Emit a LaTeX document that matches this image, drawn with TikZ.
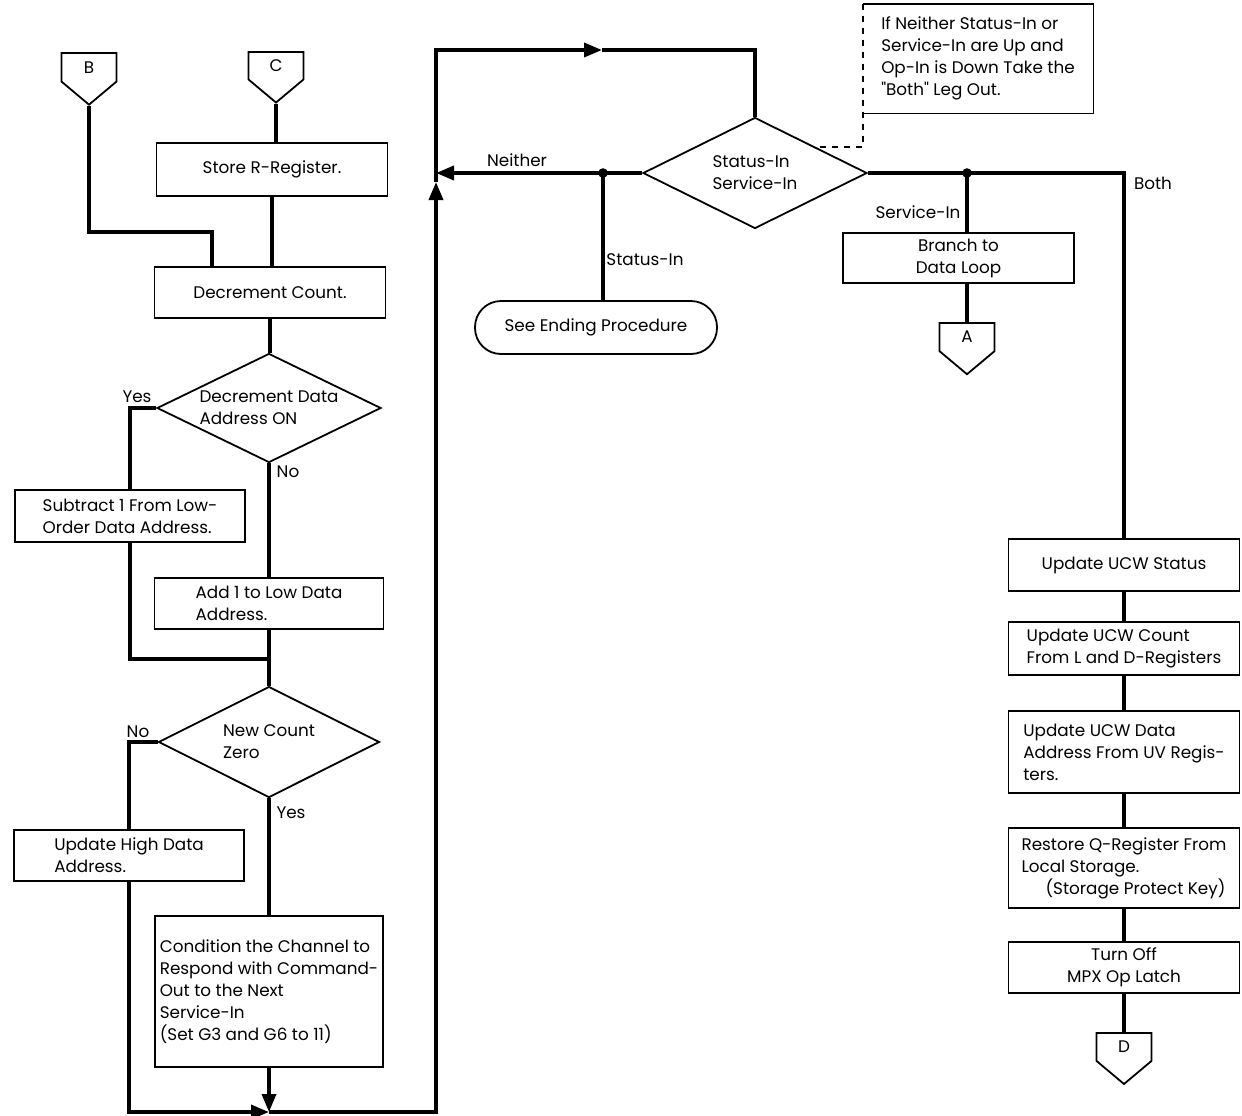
\documentclass[tikz,border=0pt]{standalone}
\usepackage{fontspec}
\setmainfont{Poppins}
\usetikzlibrary{shapes.geometric,shapes.symbols,arrows.meta}

\tikzset{
    every node/.style={font=\fontsize{8.4}{11}\selectfont},
    stepbox/.style={draw, line width=0.9pt, fill=white, inner sep=2pt},
    decision/.style={draw, diamond, aspect=2, line width=0.9pt, inner sep=0pt, align=left},
    endbox/.style={draw, rounded corners=13pt, line width=0.9pt, inner sep=2pt},
    offpage/.style={draw, signal, signal to=south, signal pointer angle=100,
        line width=0.9pt, minimum width=27.5pt, minimum height=16.5pt, inner sep=0pt},
    flow/.style={line width=1.8pt},
    flowarrow/.style={flow, -{Triangle[length=9pt,width=7pt]}},
    lbl/.style={inner sep=1pt}
}

\begin{document}
\begin{tikzpicture}[x=0.5pt, y=-0.5pt]
    \useasboundingbox (0,0) rectangle (1242,1115);

    % Entry connectors
    \node[offpage, anchor=north] (B) at (89,52) {B};
    \node[offpage, anchor=north] (C) at (276,51) {C};

    % Left column
    \node[stepbox, minimum width=115.5pt, minimum height=26.5pt] (storeR) at (272,169.5) {Store R-Register.};
    \node[stepbox, minimum width=115.5pt, minimum height=25.5pt] (decC) at (270,292.5) {Decrement Count.};
    \node[decision, minimum width=112pt, minimum height=54.5pt] (d1) at (269,408) {Decrement Data\\Address ON};
    \node[stepbox, align=left, minimum width=115pt, minimum height=26pt] (sub1) at (130,516) {Subtract 1 From Low-\\Order Data Address.};
    \node[stepbox, align=left, minimum width=114.5pt, minimum height=25.5pt] (add1) at (269,603.5) {Add 1 to Low Data\\Address.};
    \node[decision, minimum width=110.5pt, minimum height=55.5pt] (d2) at (269,742) {New Count\\Zero};
    \node[stepbox, align=left, minimum width=115pt, minimum height=25.5pt] (upHigh) at (129,855.5) {Update High Data\\Address.};
    \node[stepbox, align=left, minimum width=114pt, minimum height=75.5pt] (cond) at (269,991.5)
        {Condition the Channel to\\Respond with Command-\\Out to the Next\\Service-In\\(Set G3 and G6 to 11)};

    % Middle
    \node[decision, minimum width=112pt, minimum height=55.5pt] (d3) at (755,173) {Status-In\\Service-In};
    \node[endbox, minimum width=121pt, minimum height=26.5pt] (ending) at (596,327.5) {See Ending Procedure};

    % Right side
    \node[align=left, minimum width=115pt, minimum height=54.5pt] (note) at (978,58.5)
        {If Neither Status-In or\\Service-In are Up and\\Op-In is Down Take the\\\textquotedbl Both\textquotedbl\ Leg Out.};
    \node[stepbox, align=center, minimum width=115.5pt, minimum height=25pt] (branch) at (958.5,258) {Branch to\\Data Loop};
    \node[offpage, anchor=north] (A) at (967,322) {A};

    \node[stepbox, minimum width=115.5pt, minimum height=26pt] (ucwS) at (1124,565) {Update UCW Status};
    \node[stepbox, align=left, minimum width=115.5pt, minimum height=26.5pt] (ucwC) at (1124,648.5) {Update UCW Count\\From L and D-Registers};
    \node[stepbox, align=left, minimum width=115.5pt, minimum height=41pt] (ucwD) at (1124,752) {Update UCW Data\\Address From UV Regis-\\ters.};
    \node[stepbox, align=left, minimum width=115.5pt, minimum height=40pt] (restQ) at (1124,868) {Restore Q-Register From\\Local Storage.\\\hspace{12pt}(Storage Protect Key)};
    \node[stepbox, align=center, minimum width=115.5pt, minimum height=25.5pt] (turnOff) at (1124,967.5) {Turn Off\\MPX Op Latch};
    \node[offpage, anchor=north] (D) at (1124,1032) {D};

    % Coordinates
    \coordinate (bJoin) at (212,232);
    \coordinate (join1) at (269,659);
    \coordinate (botJ) at (269,1112);
    \coordinate (upJ) at (436,182);
    \coordinate (topJ) at (602,50);
    \coordinate (dotL) at (603,173);
    \coordinate (dotR) at (967,173);
    \coordinate (noteEnd) at (817,147);

    % Left flow
    \draw[flow] (C.south) -- (C.south |- storeR.north);
    \draw[flow] (storeR.south) -- (storeR.south |- decC.north);
    \draw[flow] (B.south) |- (bJoin) -- (bJoin |- decC.north);
    \draw[flow] (decC.south) -- (decC.south |- d1.north);
    \draw[flow] (d1.west) -| (sub1.north);
    \draw[flow] (sub1.south) |- (join1);
    \draw[flow] (d1.south) -- (add1.north);
    \draw[flow] (add1.south) -- (d2.north);
    \draw[flow] (d2.west) -| (upHigh.north);
    \draw[flow] (d2.south) -- (cond.north);

    % Loop back
    \draw[flowarrow] (upHigh.south) |- (botJ);
    \draw[flowarrow] (cond.south) -- (botJ);
    \draw[flowarrow] (botJ) -| (upJ);
    \draw[flowarrow] (upJ) |- (topJ);
    \draw[flow] (topJ) -| (d3.north);
    \draw[flowarrow] (d3.west) -- (d3.west -| upJ);

    % Branches of d3
    \draw[flow] (dotL) -- (dotL |- ending.north);
    \draw[flow] (d3.east) -- (dotR) -| (ucwS.north);
    \draw[flow] (dotR) -- (dotR |- branch.north);
    \draw[flow] (A.north |- branch.south) -- (A.north);
    \fill (dotL) circle (2.4pt);
    \fill (dotR) circle (2.4pt);

    % Right column
    \foreach \a/\b in {ucwS/ucwC, ucwC/ucwD, ucwD/restQ, restQ/turnOff, turnOff/D}
        \draw[flow] (\a.south) -- (\b.north);

    % Note
    \draw[line width=0.9pt] (note.north west) -- (note.north east) -- (note.south east) -- (note.south west);
    \draw[line width=0.9pt, dashed] (note.north west) |- (noteEnd);

    % Labels
    \node[lbl] (yes1) at (137,397) {Yes};
    \node[lbl] (no1) at (288,472) {No};
    \node[lbl] (no2) at (138,732) {No};
    \node[lbl] (yes2) at (291,813) {Yes};
    \node[lbl] (neither) at (517,160) {Neither};
    \node[lbl] (statusIn) at (645,260) {Status-In};
    \node[lbl] (serviceIn) at (918,212) {Service-In};
    \node[lbl] (both) at (1153,183) {Both};
\end{tikzpicture}
\end{document}
